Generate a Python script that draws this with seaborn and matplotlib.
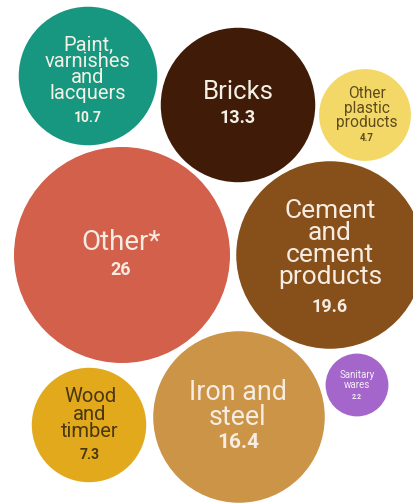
import matplotlib
matplotlib.use("Agg")
import matplotlib.pyplot as plt
import seaborn as sns
import pandas as pd

# Share of emissions by construction material
categories = ["Paint,\nvarnishes\nand\nlacquers", "Bricks", "Other\nplastic\nproducts",
              "Other*", "Cement\nand\ncement\nproducts", "Iron and\nsteel",
              "Wood\nand\ntimber", "Sanitary\nwares"]
values = [10.7, 13.3, 4.7, 26, 19.6, 16.4, 7.3, 2.2]
value_labels = ["10.7", "13.3", "4.7", "26", "19.6", "16.4", "7.3", "2.2"]

# Bubble layout (pixel-like coordinates, y grows downward)
pos_x = [88, 238, 365, 122, 330, 239, 89, 357]
pos_y = [76, 105, 115, 255, 255, 417, 425, 385]

colors = ["#17977f", "#3f1b08", "#f4d867", "#d3604b", "#87501b", "#cb9446", "#e2a91c", "#a566cb"]
text_colors = ["#f4f0e6", "#f4f0e6", "#5e4c1c", "#f6ece2", "#f6ece2", "#f6ece2", "#4a3610", "#f4eefa"]

# label style: (label y, label size, value y, value size, line spacing)
label_x = [88, 238, 367, 121, 330, 238, 90, 357]
label_y = [69, 92, 108, 243, 244, 405, 414, 380]
label_fs = [14.5, 18.5, 11.2, 20, 19, 19.4, 14.5, 7]
line_sp = [0.8, 1.0, 0.93, 1.0, 0.9, 0.95, 0.93, 0.95]
value_y = [118, 118, 138, 270, 307, 443, 455, 397]
value_fs = [10, 13, 7, 13, 13, 15, 10, 5]

df = pd.DataFrame({"category": categories, "value": values, "x": pos_x, "y": pos_y})

W, H, DPI = 414, 503, 100
fig = plt.figure(figsize=(W / DPI, H / DPI), dpi=DPI)
ax = fig.add_axes([0, 0, 1, 1])
fig.patch.set_facecolor("white")

# Marker area proportional to value; 26 -> diameter of 216 px
max_val = 26.0
max_diam_pt = 216 * 72 / DPI
sns.scatterplot(data=df, x="x", y="y", hue="category", size="value",
                palette=dict(zip(categories, colors)),
                sizes=(0, max_diam_pt ** 2), size_norm=(0, max_val),
                linewidth=0, legend=False, ax=ax, alpha=1)

ax.set_xlim(0, W)
ax.set_ylim(H, 0)
ax.axis("off")

font = "Roboto"
for i in range(len(categories)):
    ax.text(label_x[i], label_y[i], categories[i], ha="center", va="center",
            fontsize=label_fs[i], color=text_colors[i], family=font,
            linespacing=line_sp[i])
    ax.text(label_x[i], value_y[i], value_labels[i], ha="center", va="center",
            fontsize=value_fs[i], color=text_colors[i], family=font,
            fontweight="bold")

fig.savefig("out.png", dpi=DPI, facecolor="white")
